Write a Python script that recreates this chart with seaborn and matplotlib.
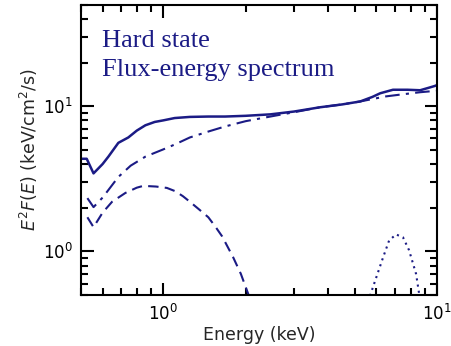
import matplotlib
matplotlib.use("Agg")
import matplotlib.pyplot as plt
import seaborn as sns
import pandas as pd
from matplotlib.ticker import LogLocator, NullFormatter

# ---- data ----
total_E = [0.505, 0.525, 0.556, 0.60, 0.63, 0.685, 0.745, 0.80, 0.86, 0.93, 1.0, 1.1, 1.25, 1.46, 1.68, 2.0, 2.46, 3.0, 3.74, 4.5, 5.24, 5.8, 6.2, 6.9, 7.8, 8.67, 9.3, 9.8, 10.0]
total_F = [4.35, 4.35, 3.45, 4.0, 4.5, 5.6, 6.1, 6.8, 7.4, 7.8, 8.0, 8.3, 8.45, 8.5, 8.5, 8.6, 8.8, 9.2, 9.85, 10.3, 10.8, 11.6, 12.3, 13.0, 13.0, 12.9, 13.4, 13.8, 14.0]

comp_E = [0.528, 0.556, 0.60, 0.63, 0.685, 0.76, 0.86, 1.0, 1.1, 1.25, 1.46, 1.68, 2.0, 2.46, 3.0, 3.74, 4.5, 5.24, 6.5, 7.5, 8.67, 10.0]
comp_F = [2.33, 2.02, 2.35, 2.65, 3.26, 3.9, 4.5, 5.05, 5.45, 6.1, 6.7, 7.26, 7.9, 8.5, 9.1, 9.85, 10.3, 10.8, 11.7, 12.1, 12.5, 12.8]

disk_E = [0.528, 0.556, 0.60, 0.65, 0.727, 0.80, 0.845, 0.94, 1.03, 1.106, 1.18, 1.25, 1.35, 1.46, 1.55, 1.64, 1.8, 1.92, 2.05]
disk_F = [1.72, 1.47, 1.85, 2.2, 2.53, 2.75, 2.83, 2.8, 2.74, 2.6, 2.4, 2.2, 1.95, 1.72, 1.48, 1.27, 0.91, 0.7, 0.5]

line_E = [5.6, 5.74, 6.35, 6.68, 7.08, 7.51, 7.9, 8.38, 8.6, 8.75]
line_F = [0.45, 0.52, 0.91, 1.19, 1.31, 1.25, 1.02, 0.70, 0.51, 0.45]

title_lines = ["Hard state", "Flux-energy spectrum"]
x_label = "Energy (keV)"
y_label = r"$E^2F(E)$ (keV/cm$^2$/s)"

color = "#1b1b85"

sns.set_style("ticks")
plt.rcParams["font.family"] = ["DejaVu Sans"]

fig = plt.figure(figsize=(4.52, 3.46), dpi=100)
ax = fig.add_axes([0.179, 0.147, 0.788, 0.839])

sns.lineplot(x=total_E, y=total_F, ax=ax, color=color, lw=1.8, linestyle="-", sort=False)
sns.lineplot(x=comp_E, y=comp_F, ax=ax, color=color, lw=1.5, sort=False,
             linestyle=(0, (7, 3, 1.5, 3)))
sns.lineplot(x=disk_E, y=disk_F, ax=ax, color=color, lw=1.5, sort=False,
             linestyle=(0, (5, 3)))
sns.lineplot(x=line_E, y=line_F, ax=ax, color=color, lw=1.5, sort=False,
             linestyle=(0, (1, 2)))

ax.set_xscale("log")
ax.set_yscale("log")
ax.set_xlim(0.5, 10)
ax.set_ylim(0.5, 50)

ax.xaxis.set_major_locator(LogLocator(base=10, numticks=10))
ax.xaxis.set_minor_locator(LogLocator(base=10, subs=range(2, 10), numticks=20))
ax.xaxis.set_minor_formatter(NullFormatter())
ax.yaxis.set_major_locator(LogLocator(base=10, numticks=10))
ax.yaxis.set_minor_locator(LogLocator(base=10, subs=range(2, 10), numticks=20))
ax.yaxis.set_minor_formatter(NullFormatter())

ax.tick_params(which="both", direction="in", top=True, right=True, colors="black", labelsize=12)
ax.tick_params(which="major", length=9, width=1.5, pad=6)
ax.tick_params(which="minor", length=5, width=1.5)
for s in ax.spines.values():
    s.set_linewidth(1.5)
    s.set_color("black")

ax.set_xlabel(x_label, fontsize=12.5, labelpad=2)
ax.set_ylabel(y_label, fontsize=12.5, labelpad=2)

ax.text(0.059, 0.855, title_lines[0], transform=ax.transAxes, family="Liberation Serif",
        fontsize=19, color=color, va="baseline")
ax.text(0.059, 0.755, title_lines[1], transform=ax.transAxes, family="Liberation Serif",
        fontsize=19, color=color, va="baseline")

fig.savefig("out.png", dpi=100)
